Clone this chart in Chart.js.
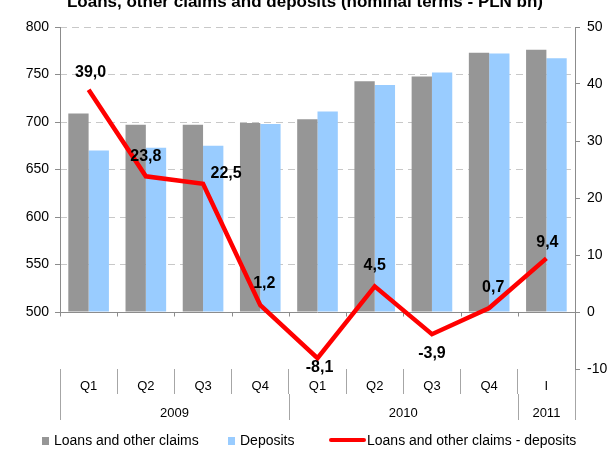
<!DOCTYPE html>
<html><head><meta charset="utf-8">
<script src="https://cdn.jsdelivr.net/npm/chart.js@4/dist/chart.umd.min.js"></script>
<style>html,body{margin:0;padding:0;background:#fff;overflow:hidden}canvas{display:block}</style>
</head><body>
<canvas id="c" width="607" height="449"></canvas>
<script>
const title = 'Loans, other claims and deposits (nominal terms - PLN bn)';
const categories = ['Q1','Q2','Q3','Q4','Q1','Q2','Q3','Q4','I'];
const years = ['2009','2010','2011'];
const yearSpans = [4,4,1];
const loans = [709,697,697,699,703,743,748,773,776];
const deposits = [670,673,675,698,711,739,752,772,767];
const difference = [39.0,23.8,22.5,1.2,-8.1,4.5,-3.9,0.7,9.4];
const leftTicks = [500,550,600,650,700,750,800];
const rightTicks = [-10,0,10,20,30,40,50];

const FONT = "'Liberation Sans', Arial, sans-serif";
Chart.defaults.font.family = FONT;
Chart.defaults.color = '#000';

// label placement (style only)
const labelOffsets = [[2,-17],[0,-20],[23,-10],[4,-22],[2,9],[0,-21],[0,19],[4,-20],[1,-16]];

const decor = {
  id: 'decor',
  beforeDatasetsDraw(chart) {
    const {ctx, chartArea: a, scales} = chart;
    const y500 = Math.round(scales.y.getPixelForValue(500)) + 0.5;
    ctx.save();
    ctx.strokeStyle = '#8c8c8c';
    ctx.lineWidth = 1;
    ctx.beginPath();
    ctx.moveTo(a.left, y500); ctx.lineTo(a.right, y500);
    for (let i = 0; i <= categories.length; i++) {
      const px = Math.round(scales.x.getPixelForValue(i - 0.5)) + 0.5;
      ctx.moveTo(px, y500); ctx.lineTo(px, y500 + 4);
    }
    const lx = Math.round(a.left) + 0.5;
    ctx.moveTo(lx, Math.round(scales.y.getPixelForValue(800)));
    ctx.lineTo(lx, y500);
    ctx.stroke();
    ctx.restore();
  },
  afterDatasetsDraw(chart) {
    const {ctx} = chart;
    const meta = chart.getDatasetMeta(0);
    ctx.save();
    ctx.font = 'bold 16px ' + FONT;
    ctx.fillStyle = '#000';
    ctx.textAlign = 'center';
    ctx.textBaseline = 'middle';
    meta.data.forEach((pt, i) => {
      const t = difference[i].toFixed(1).replace('.', ',');
      ctx.fillText(t, pt.x + labelOffsets[i][0], pt.y + labelOffsets[i][1]);
    });
    ctx.restore();
  },
  afterDraw(chart) {
    const {ctx, chartArea: a, scales} = chart;
    const xs = scales.x;
    ctx.save();
    // title
    ctx.font = 'bold 17px ' + FONT;
    ctx.fillStyle = '#000';
    ctx.textAlign = 'center';
    ctx.textBaseline = 'alphabetic';
    ctx.fillText(title, 305, 7);
    // year row
    ctx.strokeStyle = '#a6a6a6';
    ctx.lineWidth = 1;
    ctx.font = '13px ' + FONT;
    ctx.textBaseline = 'middle';
    let start = 0;
    const yTop = a.bottom + 25, yBot = a.bottom + 51;
    ctx.beginPath();
    let px0 = Math.round(xs.getPixelForValue(-0.5)) + 0.5;
    ctx.moveTo(px0, yTop); ctx.lineTo(px0, yBot);
    years.forEach((yr, k) => {
      const end = start + yearSpans[k];
      const p1 = xs.getPixelForValue(start - 0.5);
      const p2 = xs.getPixelForValue(end - 0.5);
      const pb = Math.round(p2) + 0.5;
      ctx.moveTo(pb, yTop); ctx.lineTo(pb, yBot);
      ctx.fillText(yr, (p1 + p2) / 2, a.bottom + 44);
      start = end;
    });
    ctx.stroke();
    // legend
    const ly = 441;
    ctx.font = '14px ' + FONT;
    ctx.textAlign = 'left';
    ctx.fillStyle = '#969696';
    ctx.fillRect(42, 437, 7, 8);
    ctx.fillStyle = '#000';
    ctx.fillText(chart.data.datasets[1].label, 54, ly);
    ctx.fillStyle = '#99ccff';
    ctx.fillRect(228, 437, 7, 8);
    ctx.fillStyle = '#000';
    ctx.fillText(chart.data.datasets[2].label, 240, ly);
    ctx.strokeStyle = '#ff0000';
    ctx.lineWidth = 4;
    ctx.lineCap = 'round';
    ctx.beginPath();
    ctx.moveTo(331, 440); ctx.lineTo(364, 440);
    ctx.stroke();
    ctx.fillText(chart.data.datasets[0].label, 367, ly);
    ctx.restore();
  }
};

new Chart(document.getElementById('c').getContext('2d'), {
  type: 'bar',
  data: {
    labels: categories,
    datasets: [
      {type: 'line', label: 'Loans and other claims - deposits', data: difference, yAxisID: 'y1',
       borderColor: '#ff0000', backgroundColor: '#ff0000', borderWidth: 4.5, pointRadius: 0,
       tension: 0, order: 0, borderJoinStyle: 'miter'},
      {label: 'Loans and other claims', data: loans, yAxisID: 'y', backgroundColor: '#969696',
       base: 500, order: 1, categoryPercentage: 0.71, barPercentage: 1},
      {label: 'Deposits', data: deposits, yAxisID: 'y', backgroundColor: '#99ccff',
       base: 500, order: 2, categoryPercentage: 0.71, barPercentage: 1}
    ]
  },
  options: {
    responsive: false,
    animation: false,
    layout: {padding: {top: 27, left: 0, right: 0, bottom: 0}},
    plugins: {legend: {display: false}, tooltip: {enabled: false}, title: {display: false}},
    scales: {
      x: {
        offset: true,
        grid: {offset: true, drawOnChartArea: false, drawTicks: true, tickLength: 25, color: '#a6a6a6'},
        border: {display: false},
        ticks: {font: {size: 13}, padding: -15, maxRotation: 0, autoSkip: false},
        afterFit(s) { s.height = 80; }
      },
      y: {
        position: 'left', min: 440, max: 800,
        afterBuildTicks(s) { s.ticks = leftTicks.map(v => ({value: v})); },
        grid: {color: c => (c.tick && c.tick.value === 500) ? 'rgba(0,0,0,0)' : '#c8c8c8',
               tickColor: '#8c8c8c', tickLength: 5, lineWidth: 1},
        border: {display: false, dash: [7, 5]},
        ticks: {font: {size: 14}, padding: 6},
        afterFit(s) { s.width = 60; }
      },
      y1: {
        position: 'right', min: -10, max: 50,
        afterBuildTicks(s) { s.ticks = rightTicks.map(v => ({value: v})); },
        grid: {drawOnChartArea: false, tickLength: 5, color: '#8c8c8c'},
        border: {display: true, color: '#8c8c8c'},
        ticks: {font: {size: 14}, padding: 7},
        afterFit(s) { s.width = 32; }
      }
    }
  },
  plugins: [decor]
});
</script>
</body></html>
